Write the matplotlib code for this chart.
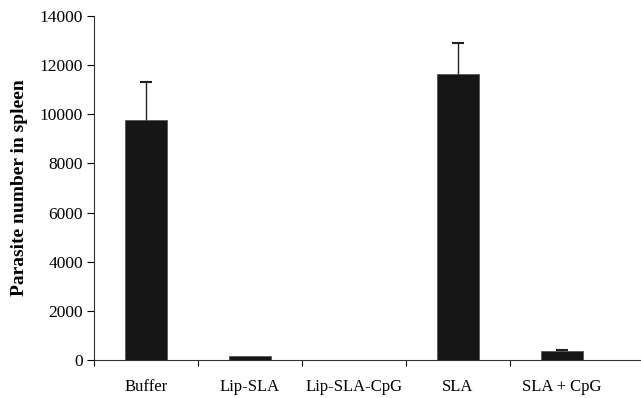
import matplotlib
matplotlib.use("Agg")
import matplotlib.pyplot as plt
import numpy as np

categories = ["Buffer", "Lip-SLA", "Lip-SLA-CpG", "SLA", "SLA + CpG"]
values = [9750, 180, 0, 11650, 370]
errors_upper = [1550, 0, 0, 1250, 50]

plt.rcParams['font.family'] = ['Liberation Serif', 'DejaVu Serif']

fig = plt.figure(figsize=(6.41, 3.98), dpi=100)
ax = fig.add_axes([0.1466, 0.0955, 0.8534, 0.8643])

x = np.arange(len(categories))
ax.bar(x, values, width=0.4, color="#161616", edgecolor="#555555", linewidth=0.6, zorder=2)
for xi, v, e in zip(x, values, errors_upper):
    if e > 0:
        line, caps, bars = ax.errorbar([xi], [v], yerr=[[0], [e]], fmt="none", ecolor="#222222",
                                       elinewidth=1.0, capsize=4, capthick=1.5, zorder=3)
        if len(caps) == 2:
            caps[0].set_visible(False)

ax.set_xlim(-0.5, 4.76)
ax.set_ylim(0, 14000)
ax.set_yticks(np.arange(0, 14001, 2000))
ax.tick_params(axis='y', labelsize=12.5, length=5, width=0.8, direction='out', pad=3)
ax.set_xticks(x)
ax.set_xticklabels(categories, fontsize=12)
ax.tick_params(axis='x', length=0, pad=14)
ax.set_xticks(np.arange(-0.5, 4.0, 1.0), minor=True)
ax.tick_params(axis='x', which='minor', length=4, width=0.8, direction='out')

for s in ['top', 'right']:
    ax.spines[s].set_visible(False)
ax.spines['left'].set_color('#333333')
ax.spines['bottom'].set_color('#333333')
ax.spines['left'].set_linewidth(0.8)
ax.spines['bottom'].set_linewidth(0.8)

ax.set_ylabel("Parasite number in spleen", fontsize=14, fontweight='bold', labelpad=8)

fig.savefig("out.png", dpi=100)
